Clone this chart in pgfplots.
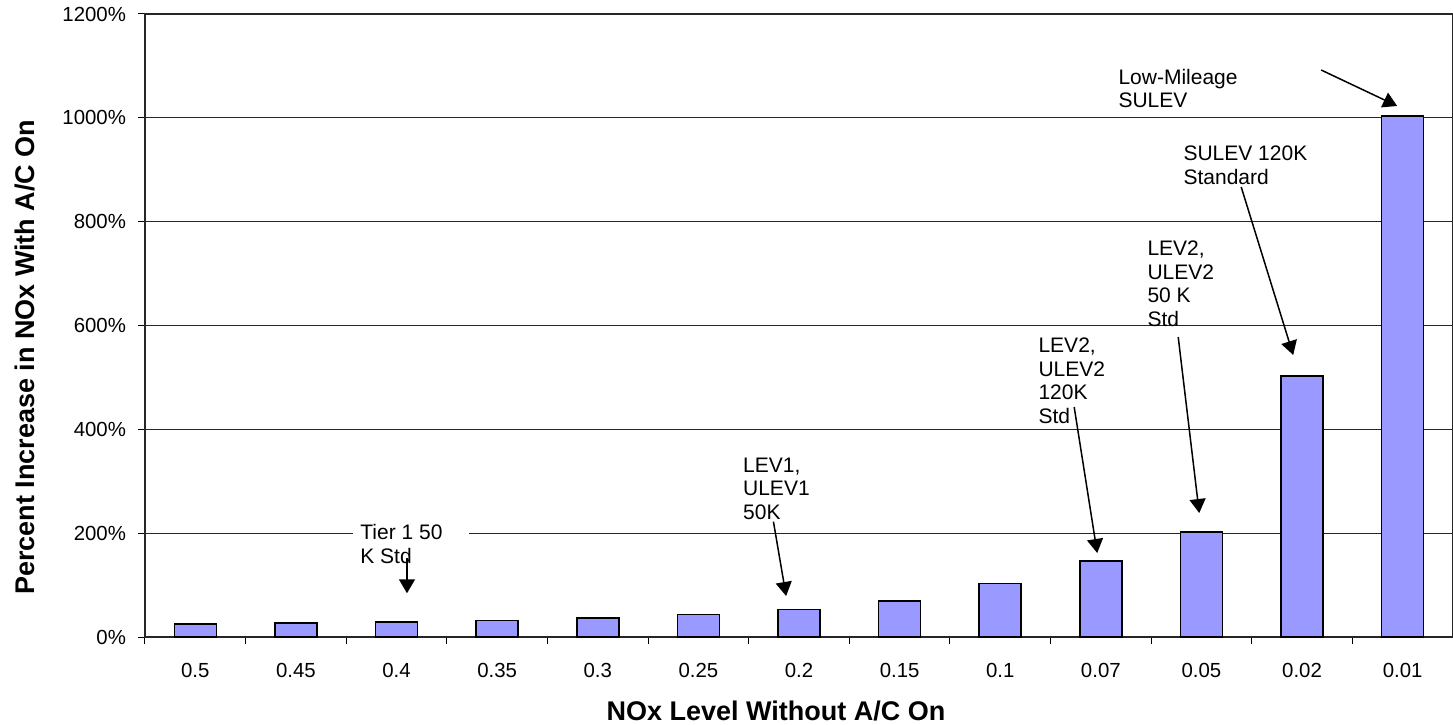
\documentclass[border=0pt]{standalone}
\usepackage{fontspec}
\setmainfont{Liberation Sans}
\usepackage{pgfplots}
\pgfplotsset{compat=1.18}
\usetikzlibrary{arrows.meta}
\definecolor{barblue}{HTML}{9999FF}

\newcommand{\annfont}{\fontsize{10.5}{11.8}\selectfont}

\begin{document}
\begin{tikzpicture}
\begin{axis}[
  at={(72.5pt,43.5pt)}, anchor=south west,
  scale only axis, width=654pt, height=311.5pt,
  xmin=-0.5, xmax=12.5, ymin=0, ymax=1200,
  clip=false,
  ytick={0,200,...,1200},
  yticklabels={0\%,200\%,400\%,600\%,800\%,1000\%,1200\%},
  xtick={0,...,12},
  xticklabels={0.5,0.45,0.4,0.35,0.3,0.25,0.2,0.15,0.1,0.07,0.05,0.02,0.01},
  minor xtick={-0.5,0.5,...,12.5},
  major x tick style={draw=none},
  xtick pos=left, ytick pos=left,
  tick align=outside, major tick length=3.5pt, minor tick length=3.5pt,
  ymajorgrids, grid style={black!85, line width=0.5pt},
  axis line style={black!85, line width=0.6pt},
  tick style={black, line width=0.5pt},
  ticklabel style={font=\fontsize{10.2}{12}\selectfont},
  xticklabel style={yshift=-6pt},
  yticklabel style={xshift=-2.5pt},
  xlabel={NOx Level Without A/C On},
  ylabel={Percent Increase in NOx With A/C On},
  every axis x label/.style={at={(axis description cs:0.4824,-0.118)}, anchor=center,
    font=\bfseries\fontsize{13.5}{16}\selectfont},
  every axis y label/.style={at={(axis description cs:-0.0917,0.449)}, rotate=90, anchor=center,
    font=\bfseries\fontsize{13.5}{16}\selectfont},
]
% percent increase of NOx for each NOx level
\addplot[ybar, bar width=21pt, fill=barblue, draw=black, line width=0.75pt]
  coordinates {(0,25) (1,27) (2,29) (3,31.5) (4,37) (5,43) (6,53)
               (7,69) (8,103) (9,146) (10,202) (11,503) (12,1004)};

% callouts
\fill[white] (axis cs:1.568,186.8) rectangle (axis cs:2.720,211.9);
\node[anchor=north west, align=left, inner sep=0pt, font=\annfont]
  at (axis cs:1.637,217.3) {Tier 1 50\\K Std};
\draw[line width=0.75pt, -{Triangle[width=8pt,length=7pt]}]
  (axis cs:2.104,152.2) -- (axis cs:2.104,84.2);

\node[anchor=north west, align=left, inner sep=0pt, font=\annfont]
  at (axis cs:5.441,345.7) {LEV1,\\ULEV1\\50K};
\draw[line width=0.75pt, -{Triangle[width=8pt,length=7pt]}]
  (axis cs:5.746,222.1) -- (axis cs:5.872,79.0);

\node[anchor=north west, align=left, inner sep=0pt, font=\annfont]
  at (axis cs:8.377,576.9) {LEV2,\\ULEV2\\120K\\Std};
\draw[line width=0.75pt, -{Triangle[width=8pt,length=7pt]}]
  (axis cs:8.735,443.0) -- (axis cs:8.964,161.8);

\node[anchor=north west, align=left, inner sep=0pt, font=\annfont]
  at (axis cs:9.460,763.7) {LEV2,\\ULEV2\\50 K\\Std};
\draw[line width=0.75pt, -{Triangle[width=8pt,length=7pt]}]
  (axis cs:9.769,577.8) -- (axis cs:9.978,238.8);

\node[anchor=north west, align=left, inner sep=0pt, font=\annfont]
  at (axis cs:9.818,946.7) {SULEV 120K\\Standard};
\draw[line width=0.75pt, -{Triangle[width=8pt,length=7pt]}]
  (axis cs:10.395,866.8) -- (axis cs:10.912,543.2);

\node[anchor=north west, align=left, inner sep=0pt, font=\annfont]
  at (axis cs:9.172,1095.0) {Low-Mileage\\SULEV};
\draw[line width=0.75pt, -{Triangle[width=8pt,length=7pt]}]
  (axis cs:11.190,1092.1) -- (axis cs:11.945,1022.8);
\end{axis}
\pgfresetboundingbox
\useasboundingbox (0pt,0pt) rectangle (726.5pt,362pt);
\end{tikzpicture}
\end{document}
